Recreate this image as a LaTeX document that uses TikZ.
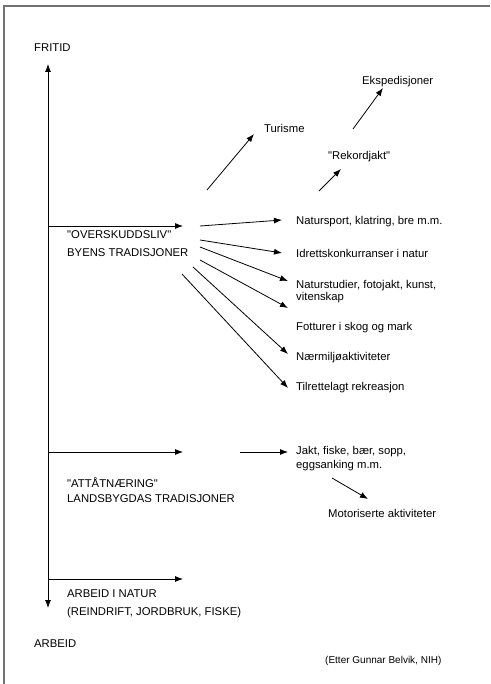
\documentclass[tikz,border=0pt]{standalone}
\usepackage{fontspec}
\setmainfont{Liberation Sans}
\usetikzlibrary{arrows.meta}
\newcommand{\qq}{\textquotedbl}
\begin{document}
\begin{tikzpicture}[x=1pt,y=-1pt,
  txt/.style={anchor=west, inner sep=0pt, font=\fontsize{11.3}{12}\selectfont, align=left},
  arr/.style={-{Latex[length=8pt,width=6pt]}, line width=0.8pt},
  dbl/.style={{Latex[length=8pt,width=6pt]}-{Latex[length=8pt,width=6pt]}, line width=0.8pt},
  frame/.style={draw=black!55, line width=1.2pt}]
\useasboundingbox (0,0) rectangle (490,684);
\fill[white] (0,0) rectangle (490,684);
% frame (top and left edges)
\coordinate (fbl) at (4,684);
\coordinate (ftl) at (4,6);
\coordinate (ftr) at (490,6);
\draw[frame] (fbl) -- (ftl) -- (ftr);

% axis
\node[txt] (fritid) at (34,48) {FRITID};
\node[txt] (arbeid) at (34,644) {ARBEID};
\coordinate (axtop) at (48,64);
\coordinate (axbot) at (48,608);
\draw[dbl] (axbot) -- (axtop);

% horizontal arrows from axis
\coordinate (h1s) at (48,226); \coordinate (h1e) at (183,226);
\coordinate (h2s) at (48,452); \coordinate (h2e) at (183,452);
\coordinate (h3s) at (48,579); \coordinate (h3e) at (183,579);
\draw[arr] (h1s) -- (h1e);
\draw[arr] (h2s) -- (h2e);
\draw[arr] (h3s) -- (h3e);

% group labels
\node[txt, font=\fontsize{11.3}{18}\selectfont] (ovs) at (67,244) {\qq OVERSKUDDSLIV\qq\\BYENS TRADISJONER};
\node[txt, font=\fontsize{11.3}{15}\selectfont] (att) at (67,490.5) {\qq ATTÅTNÆRING\qq\\LANDSBYGDAS TRADISJONER};
\node[txt, font=\fontsize{11.3}{18}\selectfont] (arbn) at (67,604) {ARBEID I NATUR\\(REINDRIFT, JORDBRUK, FISKE)};

% right-hand labels
\node[txt] (nat1) at (296,222) {Natursport, klatring, bre m.m.};
\node[txt] (nat2) at (296,253) {Idrettskonkurranser i natur};
\node[txt] (nat3) at (296,292) {Naturstudier, fotojakt, kunst,\\vitenskap};
\node[txt] (nat4) at (296,328) {Fotturer i skog og mark};
\node[txt] (nat5) at (296,358) {Nærmiljøaktiviteter};
\node[txt] (nat6) at (296,388) {Tilrettelagt rekreasjon};
\node[txt] (turisme) at (264,128) {Turisme};
\node[txt] (rekord) at (328,157) {\qq Rekordjakt\qq};
\node[txt] (eksp) at (362,82) {Ekspedisjoner};
\node[txt, font=\fontsize{11.3}{14}\selectfont] (jakt) at (296,459) {Jakt, fiske, bær, sopp,\\eggsanking m.m.};
\node[txt] (motor) at (328,513) {Motoriserte aktiviteter};
\node[txt, font=\fontsize{10}{11}\selectfont] (etter) at (325,661) {(Etter Gunnar Belvik, NIH)};

% fan of arrows
\coordinate (a1s) at (200,226); \coordinate (a1e) at (282,220);
\coordinate (a2s) at (200,240); \coordinate (a2e) at (282,253);
\coordinate (a3s) at (200,247); \coordinate (a3e) at (288,281);
\coordinate (a4s) at (200,260); \coordinate (a4e) at (288,308);
\coordinate (a5s) at (193,267); \coordinate (a5e) at (288,354);
\coordinate (a6s) at (182,274); \coordinate (a6e) at (288,388);
\draw[arr] (a1s) -- (a1e);
\draw[arr] (a2s) -- (a2e);
\draw[arr] (a3s) -- (a3e);
\draw[arr] (a4s) -- (a4e);
\draw[arr] (a5s) -- (a5e);
\draw[arr] (a6s) -- (a6e);

% upward arrows
\coordinate (ts) at (207,190); \coordinate (te) at (254,134);
\coordinate (rs) at (319,191); \coordinate (re) at (341,169);
\coordinate (es) at (353,129); \coordinate (ee) at (383,88);
\draw[arr] (ts) -- (te);
\draw[arr] (rs) -- (re);
\draw[arr] (es) -- (ee);

% lower arrows
\coordinate (js) at (240,452); \coordinate (je) at (288,452);
\coordinate (ms) at (332,478); \coordinate (me) at (368,499);
\draw[arr] (js) -- (je);
\draw[arr] (ms) -- (me);
\end{tikzpicture}
\end{document}
